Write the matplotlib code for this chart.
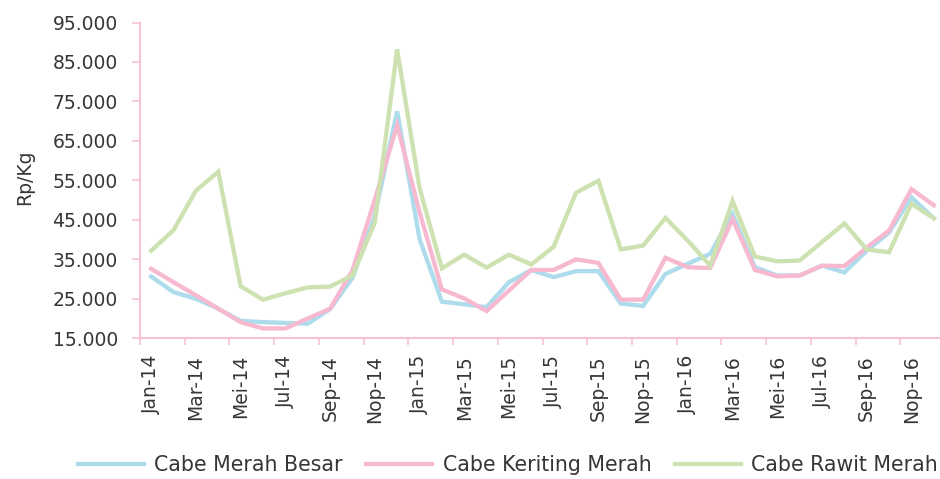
import matplotlib
matplotlib.use("Agg")
import matplotlib.pyplot as plt
from matplotlib.ticker import FuncFormatter, FixedLocator

months = ["Jan", "Feb", "Mar", "Apr", "Mei", "Jun", "Jul", "Agu", "Sep", "Okt", "Nop", "Des"]
years = ["14", "15", "16"]
categories = [f"{m}-{y}" for y in years for m in months]

cabe_merah_besar = [30650, 26700, 25000, 22500, 19400, 19100, 18900, 18700, 22400, 30300,
                    46000, 72500, 40200, 24300, 23600, 22900, 29200, 32300, 30500, 32000,
                    32000, 23800, 23200, 31300, 33900, 36400, 46500, 33000, 30900, 30900,
                    33400, 31700, 37200, 41800, 50700, 45400]
cabe_keriting_merah = [32600, 29200, 25900, 22500, 19100, 17500, 17500, 20000, 22500, 32200,
                       50100, 69000, 47000, 27400, 25100, 21900, 27100, 32300, 32300, 35000,
                       34100, 24800, 24800, 35400, 33000, 32800, 45200, 32300, 30700, 30900,
                       33400, 33300, 38000, 42300, 52800, 48700]
cabe_rawit_merah = [37200, 42400, 52400, 57200, 28200, 24800, 26400, 27900, 28100, 30900,
                    44300, 88200, 53100, 32700, 36200, 32900, 36200, 33700, 38200, 51900,
                    54900, 37500, 38500, 45500, 39700, 33400, 49800, 35700, 34500, 34700,
                    39400, 44100, 37500, 36800, 49100, 45400]

series_names = ["Cabe Merah Besar", "Cabe Keriting Merah", "Cabe Rawit Merah"]
series_values = [cabe_merah_besar, cabe_keriting_merah, cabe_rawit_merah]
colors = ["#addcec", "#f7b9d0", "#cde2b0"]

y_ticks = list(range(15000, 95001, 10000))
tick_positions = list(range(0, 36, 2))
tick_labels = [categories[i] for i in tick_positions]

text_color = "#363636"
axis_color = "#f7c3d4"
fs = 13.5

fig = plt.figure(figsize=(9.40, 4.79), dpi=100)
ax = fig.add_axes([140 / 940, 1 - 338.3 / 479, 805 / 940, (338.3 - 22.5) / 479])

x = list(range(len(categories)))
for name, vals, c in zip(series_names, series_values, colors):
    ax.plot(x, vals, color=c, lw=3.1, label=name, solid_joinstyle="miter")

ax.set_xlim(-0.5, 35.5)
ax.set_ylim(15000, 95000)
ax.set_yticks(y_ticks)
ax.yaxis.set_major_formatter(FuncFormatter(lambda v, p: f"{int(v):,}".replace(",", ".")))
ax.set_xticks(tick_positions)
ax.set_xticklabels(tick_labels, rotation=90)
ax.xaxis.set_minor_locator(FixedLocator([i - 0.5 for i in range(0, 37, 2)]))

for s in ["top", "right"]:
    ax.spines[s].set_visible(False)
for s in ["left", "bottom"]:
    ax.spines[s].set_color(axis_color)
    ax.spines[s].set_linewidth(1.5)

ax.tick_params(axis="y", colors=axis_color, labelcolor=text_color, labelsize=fs,
               length=6, width=1.2, pad=10)
ax.tick_params(axis="x", which="major", length=0, labelcolor=text_color, labelsize=fs, pad=12)
ax.tick_params(axis="x", which="minor", length=5, width=1.2, color=axis_color)

fig.text(25 / 940, 1 - 177 / 479, "Rp/Kg", rotation=90, ha="center", va="center",
         color=text_color, fontsize=fs)

fig.legend(loc="center", bbox_to_anchor=(508 / 940, 1 - 465 / 479), ncol=3, frameon=False,
           fontsize=14.8, handlelength=3.2, handletextpad=0.5, columnspacing=1.15,
           labelcolor=text_color)

fig.savefig("out.png", dpi=100)
